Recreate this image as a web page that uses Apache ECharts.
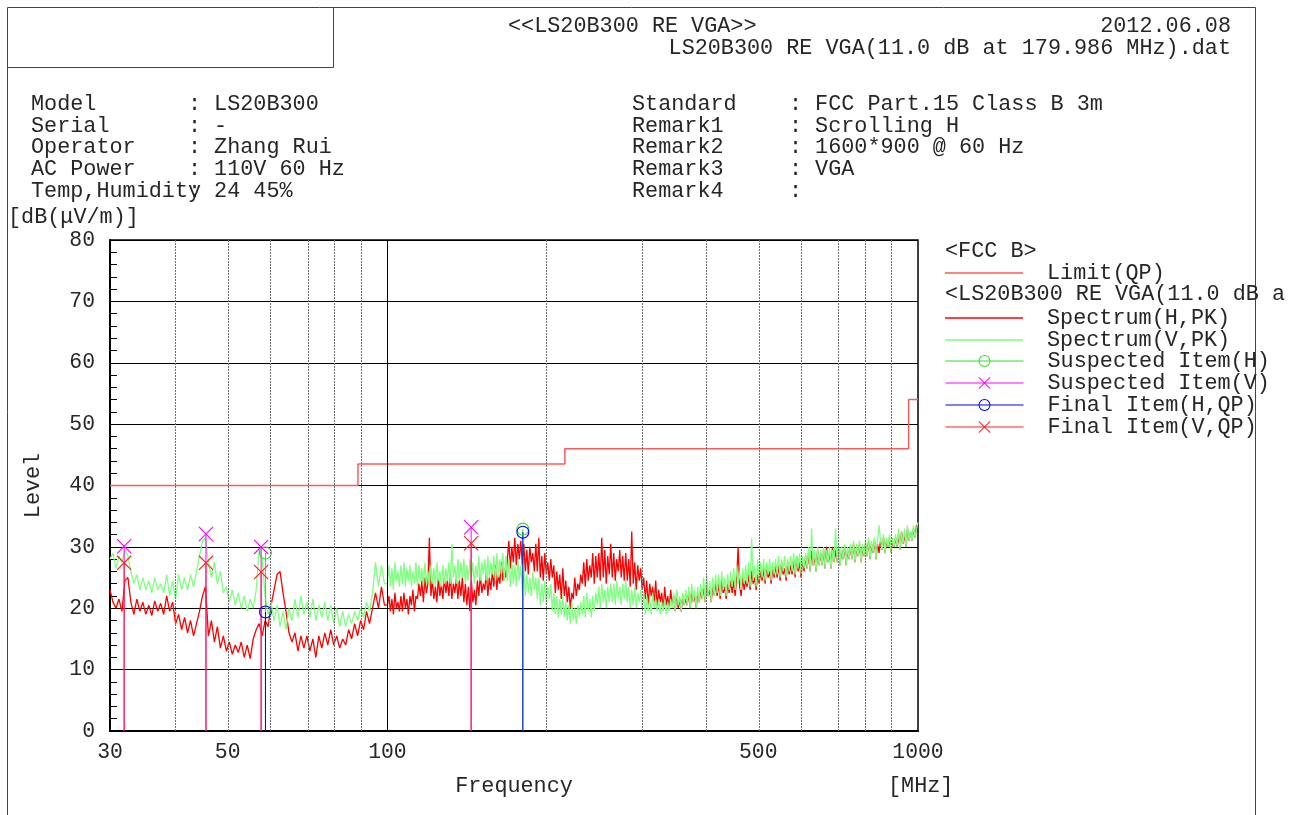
<!DOCTYPE html>
<html><head><meta charset="utf-8">
<script src="https://cdn.jsdelivr.net/npm/echarts@6/dist/echarts.min.js"></script>
<style>html,body{margin:0;padding:0;background:#fff}#c{width:1298px;height:815px}</style>
</head><body><div id="c"></div>
<script>
// ---- data (levels in dB(uV/m), frequencies in MHz) ----
// sweep segment 1: 30 -> 100 MHz (log-spaced readings, end excluded)
const seg1StartMHz = 30, seg1StopMHz = 100;
// sweep segment 2: 100 -> 1000 MHz (log-spaced readings, both ends included)
const seg2StartMHz = 100, seg2StopMHz = 1000;

const spectrumHLow = [
23.0,21.0,20.0,21.5,19.5,24.5,25.0,21.0,19.0,21.5,
19.5,21.0,19.0,20.5,18.8,21.2,19.5,20.8,19.0,22.0,
19.5,21.0,17.5,19.0,16.5,18.5,16.0,18.0,15.5,17.5,
19.5,22.0,23.5,15.5,18.0,14.5,17.0,13.5,15.5,13.0,
14.5,12.5,14.0,12.8,14.5,12.0,14.0,11.8,15.0,16.5,
17.5,15.5,18.0,17.0,20.5,23.0,25.5,26.0,22.5,19.5,
16.0,14.5,16.0,13.0,15.5,13.5,15.5,13.0,15.0,12.0,
15.5,13.5,16.0,14.0,16.5,14.0,15.5,13.5,15.0,14.0,
16.5,15.0,17.5,15.5,18.0,16.5,19.5,17.5,20.0,22.5,
20.0,23.5,20.5
];
const spectrumHHigh = [
20.5,22.0,19.5,21.5,19.0,22.5,20.0,21.0,19.5,22.0,
19.5,22.5,20.0,21.5,19.0,22.0,20.5,23.0,19.5,22.0,
21.5,24.0,22.0,24.5,21.0,25.0,22.5,24.0,31.5,22.0,
24.5,21.5,23.5,21.0,25.0,22.0,24.0,21.5,25.0,22.5,
24.5,22.0,25.5,21.5,24.0,22.5,25.0,21.5,24.5,22.0,
25.0,21.0,24.0,20.5,23.5,19.5,24.5,21.0,23.0,20.5,
24.5,22.0,25.5,22.5,24.0,23.0,26.0,22.0,25.0,23.0,
26.0,23.5,27.0,23.0,25.5,24.0,27.5,24.5,26.5,25.0,
28.0,31.0,26.5,30.0,27.5,31.5,27.0,30.5,28.0,31.0,
27.0,30.5,26.0,29.5,25.5,30.0,27.5,29.0,26.0,30.5,
26.0,31.5,25.0,28.5,24.5,29.0,25.5,27.5,24.5,28.0,
25.0,27.0,22.5,26.0,23.0,25.5,21.5,26.5,22.0,24.5,
21.0,23.5,20.0,22.5,21.5,25.0,22.0,24.0,23.0,25.5,
24.0,27.5,23.5,28.0,24.5,27.0,25.0,29.0,24.0,28.5,
25.0,29.0,24.5,31.5,25.0,29.5,24.0,28.5,25.5,30.5,
25.0,29.0,24.5,28.0,26.0,29.5,25.0,28.5,24.5,29.0,
24.5,28.0,23.5,32.5,24.0,27.5,23.0,27.0,24.5,26.5,
23.0,25.0,21.5,24.5,20.5,24.0,22.0,23.5,21.0,24.5,
20.0,23.0,21.0,22.5,19.8,23.5,20.5,22.0,20.0,23.0,
20.5,22.0,19.5,22.5,20.0,21.5,19.5,22.0,20.5,21.5,
20.5,22.5,20.0,23.0,21.0,22.0,20.0,22.5,21.0,23.0,
21.5,23.5,21.0,24.0,22.0,23.0,21.0,23.5,22.0,24.0,
22.0,24.0,21.5,24.5,22.5,23.5,21.5,24.0,22.5,24.5,
22.5,24.5,22.0,25.0,30.0,23.5,22.0,25.0,23.0,24.5,
23.5,25.5,23.0,26.0,24.0,25.0,23.0,25.5,24.0,26.0,
24.5,26.5,24.0,27.0,25.0,26.0,24.0,26.5,25.0,27.0,
25.0,27.0,24.5,27.5,25.5,26.5,24.5,27.5,25.5,27.0,
25.5,28.0,25.0,28.5,26.0,27.5,25.0,28.0,26.0,28.5,
26.5,29.0,26.0,29.5,27.0,28.5,26.0,29.5,27.0,29.0,
27.0,29.5,26.5,30.0,27.5,29.0,26.5,30.0,27.5,29.5,
27.5,30.0,27.0,29.5,28.0,30.0,27.0,29.5,28.0,30.0,
28.0,30.5,27.5,30.0,28.5,30.5,27.5,30.0,28.5,30.5,
28.5,31.0,28.0,30.5,29.0,31.0,28.0,30.5,29.0,31.0,
29.5,31.5,29.0,31.0,30.0,31.5,29.0,31.0,30.0,31.5,
30.0,32.0,29.5,32.5,30.5,32.0,30.0,33.0,31.0,32.5,
31.0,33.0,31.5,33.5,33.5
];
const spectrumVLow = [
28.0,29.0,26.5,28.5,27.5,29.5,28.5,26.0,24.0,25.5,
23.0,25.0,23.0,24.5,22.5,25.0,23.0,24.0,22.5,25.5,
22.0,24.5,21.5,25.5,23.0,25.0,23.0,25.5,23.5,26.0,
28.5,31.0,31.5,27.5,25.0,27.5,24.0,26.0,22.5,23.5,
21.0,23.0,20.5,22.5,20.0,22.0,19.5,21.5,20.0,23.0,
29.5,28.0,22.0,19.0,21.0,18.0,20.5,17.0,19.5,16.5,
20.0,18.0,21.5,18.5,22.0,19.0,21.0,18.5,21.5,18.0,
20.5,18.5,21.0,18.0,20.5,17.5,20.0,17.0,19.5,17.0,
19.0,17.5,19.5,18.0,20.0,18.5,21.0,19.5,22.5,27.5,
23.5,27.0,24.0
];
const spectrumVHigh = [
24.0,27.0,23.5,26.5,23.0,27.5,24.5,26.0,23.5,27.0,
24.0,27.5,23.5,26.5,24.5,27.0,23.5,26.0,24.0,27.5,
23.5,27.0,24.5,26.5,23.5,27.5,24.0,26.0,23.5,27.0,
24.0,26.5,23.5,27.5,24.5,26.0,23.5,27.0,24.0,26.5,
24.5,27.5,24.0,30.5,25.0,27.0,24.0,28.0,24.5,27.5,
25.0,28.0,24.0,27.0,24.5,28.0,25.0,27.5,24.0,27.0,
25.0,28.5,24.5,27.5,25.5,28.0,24.5,28.5,25.0,27.5,
25.5,28.5,24.5,29.0,25.0,28.0,25.5,29.0,24.5,28.5,
24.5,28.0,23.5,27.5,24.0,27.0,23.5,28.0,24.5,27.0,
23.0,26.0,22.0,25.5,22.5,25.0,22.0,26.0,23.0,25.0,
21.5,25.0,20.5,24.0,21.0,24.5,20.5,23.5,21.5,24.0,
19.5,22.5,19.0,22.0,18.5,21.5,19.0,22.0,18.5,21.0,
18.0,20.5,17.5,21.0,18.0,20.0,17.5,20.5,18.5,21.0,
19.0,22.0,18.5,22.5,19.5,21.5,18.5,22.0,19.5,22.5,
20.5,23.5,20.0,24.0,21.0,23.0,20.0,23.5,21.0,24.0,
21.0,24.0,20.5,24.5,21.5,23.5,20.5,24.0,21.5,24.5,
21.0,23.5,20.0,23.0,20.5,23.5,20.0,22.5,21.0,23.0,
20.0,22.5,19.0,22.0,19.5,21.5,19.0,22.5,20.0,21.5,
19.5,21.5,19.0,21.0,19.5,21.5,19.0,21.0,19.5,21.5,
20.0,22.5,19.5,23.0,20.5,22.0,19.5,22.5,20.5,23.0,
20.5,23.5,20.0,24.0,21.0,23.0,20.0,23.5,21.0,24.0,
21.5,25.0,21.0,25.5,22.0,24.5,21.0,25.0,22.0,25.5,
22.5,25.5,22.0,26.0,23.0,25.0,22.0,25.5,23.0,26.0,
23.5,26.5,23.0,27.0,24.0,26.0,23.0,26.5,24.0,27.0,
24.0,27.5,23.5,31.5,24.5,27.0,23.5,28.0,24.5,27.5,
25.0,28.0,24.5,27.5,25.5,28.0,24.5,27.5,25.5,28.0,
25.5,28.5,25.0,28.0,26.0,28.5,25.0,28.0,26.0,28.5,
26.0,29.0,25.5,28.5,26.5,29.0,25.5,28.5,26.5,29.0,
26.5,30.0,26.0,33.0,27.0,29.5,26.0,30.0,27.0,29.5,
27.0,30.0,26.5,29.5,27.5,30.0,26.5,29.5,27.5,33.0,
27.5,30.5,27.0,30.0,28.0,30.5,27.0,30.0,28.0,30.5,
28.0,31.0,27.5,30.5,28.5,31.0,27.5,30.5,28.5,31.0,
28.5,31.5,28.0,31.0,29.0,31.5,28.0,31.0,33.5,31.0,
29.5,32.0,29.0,31.5,30.0,32.0,29.0,31.5,30.0,32.0,
30.0,33.0,29.5,32.5,30.5,33.0,30.0,33.5,31.0,32.5,
31.0,33.5,31.5,33.0,34.0
];
const limitMHz   = [30, 88, 88, 216, 216, 960, 960, 1000];
const limitLevel = [40, 40, 43.5, 43.5, 46, 46, 54, 54];
const suspectedHMHz = [58.9, 179.986];
const suspectedHLvl = [29.0, 32.9];
const suspectedVMHz = [31.9, 45.5, 57.8, 143.8];
const suspectedVLvl = [30.1, 32.1, 30.0, 33.2];
const finalHMHz = [58.9, 179.986];
const finalHLvl = [19.4, 32.4];
const finalVMHz = [31.9, 45.5, 57.8, 143.8];
const finalVLvl = [27.4, 27.4, 25.9, 30.6];
const xTickMHz = [30, 50, 100, 500, 1000];
const gridMinorMHz = [40, 50, 60, 70, 80, 90, 200, 300, 400, 500, 600, 700, 800, 900];
const gridMajorMHz = [100];
const infoLeft = [["Model","LS20B300"],["Serial","-"],["Operator","Zhang Rui"],["AC Power","110V 60 Hz"],["Temp,Humidity","24 45%"]];
const infoRight = [["Standard","FCC Part.15 Class B 3m"],["Remark1","Scrolling H"],["Remark2","1600*900 @ 60 Hz"],["Remark3","VGA"],["Remark4",""]];

// ---- build ----
const L = Math.log10;
const FS = 21.8;
const FAM = '"Liberation Mono", "Courier New", monospace';
const FONT = FS + 'px ' + FAM;
const TXT = '#262626';
function segX(n, a, b, inclEnd) {
  const out = [];
  for (let i = 0; i < n; i++) out.push(L(a) + (L(b) - L(a)) * i / (inclEnd ? n - 1 : n));
  return out;
}
const x1 = segX(spectrumHLow.length, seg1StartMHz, seg1StopMHz, false);
const x2 = segX(spectrumHHigh.length, seg2StartMHz, seg2StopMHz, true);
const specHData = spectrumHLow.map((v, i) => [x1[i], v]).concat(spectrumHHigh.map((v, i) => [x2[i], v]));
const specVData = spectrumVLow.map((v, i) => [x1[i], v]).concat(spectrumVHigh.map((v, i) => [x2[i], v]));
const limitData = limitMHz.map((f, i) => [L(f), limitLevel[i]]);
function dropData(fs, vs) {
  const out = [];
  fs.forEach((f, k) => {
    if (k) out.push([L(f), '-']);
    out.push([L(f), vs[k]]);
    out.push({ value: [L(f), 0], symbol: 'none' });
  });
  return out;
}
const RING = 'path://M0,6.5A6.5,6.5,0,1,1,13,6.5A6.5,6.5,0,1,1,0,6.5ZM1.1,6.5A5.4,5.4,0,1,0,11.9,6.5A5.4,5.4,0,1,0,1.1,6.5Z';
const CROSS = 'path://M0,0.8L0.8,0L15,14.2L14.2,15ZM14.2,0L15,0.8L0.8,15L0,14.2Z';
function markerSeries(name, color, sym, size, fs, vs) {
  return {
    name, type: 'line', color, data: dropData(fs, vs),
    symbol: sym, symbolSize: size, showSymbol: true, connectNulls: false,
    itemStyle: { color }, lineStyle: { color, width: 1 },
    emphasis: { disabled: true }, z: 4
  };
}

const gridLines = gridMinorMHz.map(f => ({ xAxis: L(f) }))
  .concat(gridMajorMHz.map(f => ({ xAxis: L(f), lineStyle: { color: '#000', type: 'solid', width: 1 } })));

const graphic = [];
function gline(xa, ya, xb, yb) { graphic.push({ type: 'line', silent: true, shape: { x1: xa, y1: ya, x2: xb, y2: yb }, style: { stroke: '#444', lineWidth: 1 } }); }
function gtext(text, x, y, align) { graphic.push({ type: 'text', silent: true, style: { text, x, y, font: FONT, fill: TXT, align: align || 'left', verticalAlign: 'middle' } }); }
gline(7.5, 7.5, 1255.5, 7.5);
gline(7.5, 7.5, 7.5, 815);
gline(1255.5, 7.5, 1255.5, 815);
gline(7.5, 67.5, 333.5, 67.5);
gline(333.5, 7.5, 333.5, 67.5);
gtext('<<LS20B300 RE VGA>>', 508, 26);
gtext('2012.06.08', 1231, 26, 'right');
gtext('LS20B300 RE VGA(11.0 dB at 179.986 MHz).dat', 1231, 48, 'right');
const rowY = [104, 126, 147.5, 169, 191];
const CW = FS * 0.6;
infoLeft.forEach((r, i) => { gtext(r[0], 31, rowY[i]); gtext(':', 31 + 12 * CW, rowY[i]); gtext(r[1], 31 + 14 * CW, rowY[i]); });
infoRight.forEach((r, i) => { gtext(r[0], 632, rowY[i]); gtext(':', 632 + 12 * CW, rowY[i]); gtext(r[1], 632 + 14 * CW, rowY[i]); });
gtext('[dB(\u03bcV/m)]', 8, 217);
gtext('[MHz]', 888, 786);
gtext('<FCC B>', 945, 251);
gtext('<LS20B300 RE VGA(11.0 dB a', 945, 294);

const legendText = { fontFamily: FAM, fontSize: FS, color: TXT, lineHeight: 21.6, padding: [0, 0, 0, 19] };
const legendBase = { orient: 'vertical', left: 945, itemWidth: 78, itemGap: 0, padding: 0, selectedMode: false, textStyle: legendText };

const option = {
  animation: false,
  backgroundColor: '#fff',
  grid: { left: 110, right: 380, top: 240, bottom: 84, show: true, borderColor: '#000', borderWidth: 1.5, backgroundColor: 'transparent' },
  xAxis: {
    type: 'value', min: L(30), max: 3,
    name: 'Frequency', nameLocation: 'middle', nameGap: 44,
    nameTextStyle: { fontFamily: FAM, fontSize: FS, color: TXT },
    axisLine: { show: true, lineStyle: { color: '#000', width: 2 } },
    axisTick: { show: false },
    splitLine: { show: false },
    axisLabel: {
      customValues: xTickMHz.map(L), margin: 11,
      fontFamily: FAM, fontSize: 21.4, color: TXT,
      formatter: v => String(Math.round(Math.pow(10, v)))
    }
  },
  yAxis: {
    type: 'value', min: 0, max: 80, interval: 10,
    name: 'Level', nameLocation: 'middle', nameGap: 66, nameRotate: 90,
    nameTextStyle: { fontFamily: FAM, fontSize: FS, color: TXT },
    axisLine: { show: true, lineStyle: { color: '#000', width: 2 } },
    axisTick: { show: true, inside: true, length: 7, lineStyle: { color: '#000' } },
    minorTick: { show: true, splitNumber: 5, length: 7, lineStyle: { color: '#000' } },
    splitLine: { show: true, lineStyle: { color: '#000', width: 1 } },
    axisLabel: { margin: 15, fontFamily: FAM, fontSize: 21.4, color: TXT }
  },
  legend: [
    Object.assign({}, legendBase, { top: 262, itemHeight: 1.5, icon: 'rect', data: ['Limit(QP)'] }),
    Object.assign({}, legendBase, { top: 307, itemHeight: 1.5, icon: 'rect', data: ['Spectrum(H,PK)', 'Spectrum(V,PK)'] }),
    Object.assign({}, legendBase, { top: 350, itemHeight: 15, lineStyle: { width: 1 }, itemStyle: { borderWidth: 0 },
      data: ['Suspected Item(H)', 'Suspected Item(V)', 'Final Item(H,QP)', 'Final Item(V,QP)'] })
  ],
  graphic,
  series: [
    { name: 'Limit(QP)', type: 'line', color: '#ff5a5a', data: limitData, symbol: 'none', lineStyle: { color: '#ff5a5a', width: 1.5 }, z: 2,
      emphasis: { disabled: true },
      markLine: { silent: true, symbol: 'none', label: { show: false }, emphasis: { disabled: true },
        lineStyle: { color: '#6e6e6e', type: [2, 1], width: 1 }, data: gridLines } },
    { name: 'Spectrum(H,PK)', type: 'line', color: '#ff0000', data: specHData, symbol: 'none', lineStyle: { color: '#ff0000', width: 1.3 }, z: 3, emphasis: { disabled: true } },
    { name: 'Spectrum(V,PK)', type: 'line', color: '#80ff80', data: specVData, symbol: 'none', lineStyle: { color: '#80ff80', width: 1.3 }, z: 3, emphasis: { disabled: true } },
    markerSeries('Suspected Item(H)', '#33dd33', RING, 13, suspectedHMHz, suspectedHLvl),
    markerSeries('Suspected Item(V)', '#ff00ff', CROSS, 15, suspectedVMHz, suspectedVLvl),
    markerSeries('Final Item(H,QP)', '#0000ff', RING, 13, finalHMHz, finalHLvl),
    markerSeries('Final Item(V,QP)', '#ff2020', CROSS, 15, finalVMHz, finalVLvl)
  ]
};
const chart = echarts.init(document.getElementById('c'), null, { renderer: 'canvas' });
chart.setOption(option);
</script>
</body></html>
